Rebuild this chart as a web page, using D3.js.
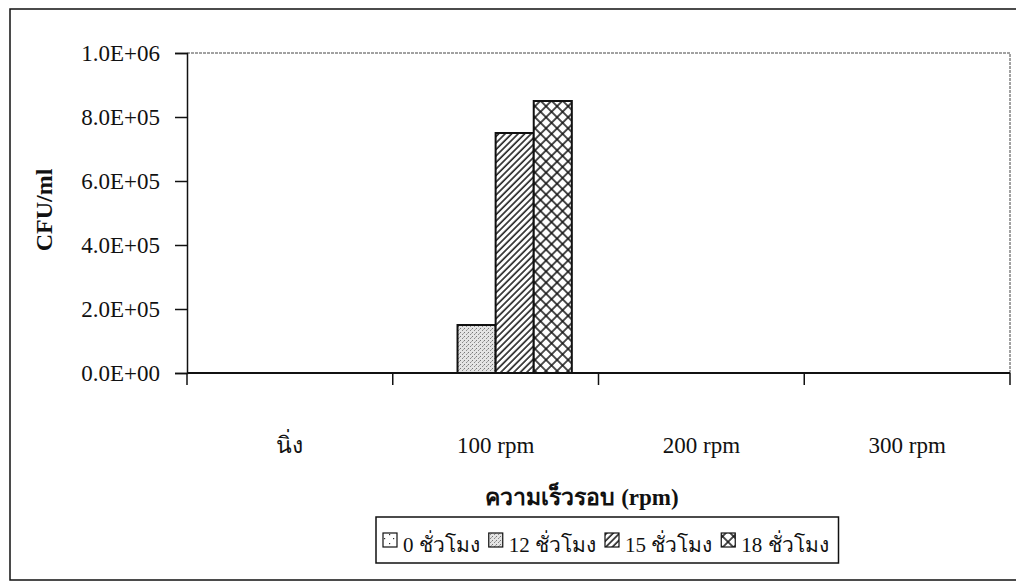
<!DOCTYPE html>
<html>
<head>
<meta charset="utf-8">
<script src="https://cdn.jsdelivr.net/npm/d3@7"></script>
<style>
  body { margin: 0; background: #fff; }
  text { font-family: "Liberation Serif", "DejaVu Serif", serif; fill: #111; }
</style>
</head>
<body>
<div id="chart-area"></div>
<script>
// data
var categories = ["นิ่ง", "100 rpm", "200 rpm", "300 rpm"];
var seriesNames = ["0 ชั่วโมง", "12 ชั่วโมง", "15 ชั่วโมง", "18 ชั่วโมง"];
var h0 = [0, 0, 0, 0];
var h12 = [0, 150000, 0, 0];
var h15 = [0, 750000, 0, 0];
var h18 = [0, 850000, 0, 0];
var yTicks = [0, 200000, 400000, 600000, 800000, 1000000];
var yTickLabels = ["0.0E+00", "2.0E+05", "4.0E+05", "6.0E+05", "8.0E+05", "1.0E+06"];

var series = [h0, h12, h15, h18];
var patterns = ["p0", "p12", "p15", "p18"];

var W = 1016, H = 583;
var plot = {left: 187, right: 1010, top: 53, bottom: 373};

var svg = d3.select("#chart-area").append("svg").attr("width", W).attr("height", H);
var defs = svg.append("defs");

// fill patterns
var p0 = defs.append("pattern").attr("id", "p0").attr("patternUnits", "userSpaceOnUse").attr("width", 9).attr("height", 9);
p0.append("rect").attr("width", 9).attr("height", 9).attr("fill", "#fff");
p0.append("rect").attr("x", 2).attr("y", 3).attr("width", 1.2).attr("height", 1.2).attr("fill", "#333");
p0.append("rect").attr("x", 6).attr("y", 7).attr("width", 1.2).attr("height", 1.2).attr("fill", "#333");

var p12 = defs.append("pattern").attr("id", "p12").attr("patternUnits", "userSpaceOnUse").attr("width", 4).attr("height", 4);
p12.append("rect").attr("width", 4).attr("height", 4).attr("fill", "#e4e4e4");
p12.append("rect").attr("x", 0).attr("y", 0).attr("width", 1).attr("height", 1).attr("fill", "#777");
p12.append("rect").attr("x", 2).attr("y", 2).attr("width", 1).attr("height", 1).attr("fill", "#888");
p12.append("rect").attr("x", 3).attr("y", 1).attr("width", 1).attr("height", 1).attr("fill", "#aaa");

var p15 = defs.append("pattern").attr("id", "p15").attr("patternUnits", "userSpaceOnUse").attr("width", 4.6).attr("height", 4.6)
  .attr("patternTransform", "rotate(45)");
p15.append("rect").attr("width", 4.6).attr("height", 4.6).attr("fill", "#fff");
p15.append("line").attr("x1", 1).attr("x2", 1).attr("y1", 0).attr("y2", 4.6).attr("stroke", "#111").attr("stroke-width", 1.5);

var p18 = defs.append("pattern").attr("id", "p18").attr("patternUnits", "userSpaceOnUse").attr("width", 7.8).attr("height", 7.8)
  .attr("patternTransform", "rotate(45)");
p18.append("rect").attr("width", 7.8).attr("height", 7.8).attr("fill", "#fff");
p18.append("line").attr("x1", 1).attr("x2", 1).attr("y1", 0).attr("y2", 7.8).attr("stroke", "#111").attr("stroke-width", 1.5);
p18.append("line").attr("x1", 0).attr("x2", 7.8).attr("y1", 1).attr("y2", 1).attr("stroke", "#111").attr("stroke-width", 1.5);

// outer frame (left, top, bottom)
svg.append("path").attr("d", "M1016,9 L10,9 L10,580 L1016,580").attr("fill", "none").attr("stroke", "#111").attr("stroke-width", 1.5);

var x = d3.scaleBand().domain(categories).range([plot.left, plot.right]).padding(0);
var xs = d3.scaleBand().domain(d3.range(series.length)).range([0, x.bandwidth()]).paddingInner(0).paddingOuter(0.7);
var y = d3.scaleLinear().domain([0, 1000000]).range([plot.bottom, plot.top]);

// plot area border top/right
svg.append("path").attr("d", "M" + plot.left + "," + plot.top + " L" + plot.right + "," + plot.top + " L" + plot.right + "," + plot.bottom)
  .attr("fill", "none").attr("stroke", "#444").attr("stroke-width", 1).attr("stroke-dasharray", "3,1");

// bars
var g = svg.append("g");
series.forEach(function(vals, si) {
  g.selectAll(".bar" + si).data(vals).enter().append("rect")
    .attr("x", function(d, i) { return x(categories[i]) + xs(si); })
    .attr("y", function(d) { return y(d); })
    .attr("width", xs.bandwidth())
    .attr("height", function(d) { return y(0) - y(d); })
    .attr("fill", "url(#" + patterns[si] + ")")
    .attr("stroke", "#111").attr("stroke-width", function(d) { return d > 0 ? 2 : 0; });
});

// y axis
var leftAxis = d3.axisLeft(y).tickValues(yTicks).tickSize(12).tickPadding(15)
  .tickFormat(function(d, i) { return yTickLabels[i]; });
var ya = svg.append("g").attr("transform", "translate(" + plot.left + ",0)").call(leftAxis);
ya.select(".domain").attr("stroke", "#111").attr("stroke-width", 1.5);
ya.selectAll(".tick line").attr("stroke", "#111").attr("stroke-width", 1.5);
ya.selectAll("text").attr("font-size", "23px").attr("fill", "#111").style("font-family", "'Liberation Serif', serif");

// x axis line and ticks at band edges
svg.append("line").attr("x1", plot.left).attr("x2", plot.right).attr("y1", plot.bottom).attr("y2", plot.bottom)
  .attr("stroke", "#111").attr("stroke-width", 2);
var edges = categories.map(function(c) { return x(c); }).concat([plot.right]);
svg.selectAll(".xtick").data(edges).enter().append("line")
  .attr("x1", function(d) { return d; }).attr("x2", function(d) { return d; })
  .attr("y1", plot.bottom).attr("y2", plot.bottom + 12).attr("stroke", "#111").attr("stroke-width", 1.5);

svg.selectAll(".xlabel").data(categories).enter().append("text")
  .attr("x", function(d) { return x(d) + x.bandwidth() / 2; }).attr("y", 453)
  .attr("text-anchor", "middle").attr("font-size", "23px").text(function(d) { return d; });

// axis titles
svg.append("text").attr("transform", "translate(52,210) rotate(-90)").attr("text-anchor", "middle")
  .attr("font-size", "24px").attr("font-weight", "bold").text("CFU/ml");
svg.append("text").attr("x", 582).attr("y", 505).attr("text-anchor", "middle")
  .attr("font-size", "23px").attr("font-weight", "bold").text("ความเร็วรอบ (rpm)");

// legend
var lg = svg.append("g");
var lbox = lg.append("rect").attr("y", 517).attr("height", 46).attr("fill", "#fff").attr("stroke", "#111").attr("stroke-width", 1.5);
var cx = 383;
seriesNames.forEach(function(name, si) {
  lg.append("rect").attr("x", cx).attr("y", 533).attr("width", 14).attr("height", 14)
    .attr("fill", "url(#" + patterns[si] + ")").attr("stroke", "#111").attr("stroke-width", 1.2);
  var t = lg.append("text").attr("x", cx + 20).attr("y", 552).attr("font-size", "21px").text(name);
  cx += 20 + t.node().getComputedTextLength() + 9;
});
lbox.attr("x", 376).attr("width", cx - 376 + 1);
</script>
</body>
</html>
